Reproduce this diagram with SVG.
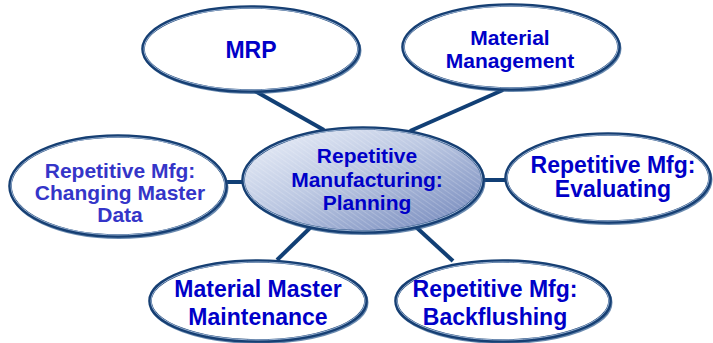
<svg xmlns="http://www.w3.org/2000/svg" width="713" height="343" viewBox="0 0 713 343">
<defs>
<linearGradient id="cg" x1="0" y1="0" x2="1" y2="1">
<stop offset="0" stop-color="#eef2fa"/>
<stop offset="0.45" stop-color="#bcc8e2"/>
<stop offset="1" stop-color="#6d82b8"/>
</linearGradient>
<pattern id="tex" width="4" height="4" patternUnits="userSpaceOnUse" patternTransform="rotate(35)">
<rect width="4" height="1" fill="#ffffff" opacity="0.18"/>
</pattern>
</defs>
<style>
.sh{fill:none;stroke:#2c5a8e;stroke-width:3;opacity:0.7}
.ring{fill:#ffffff;stroke:#163f73;stroke-width:3.6}
.ring2{fill:none;stroke:#a9c0dd;stroke-width:0.9}
.t{font-family:"Liberation Sans",Arial,sans-serif;font-weight:bold;fill:#0000c8;text-anchor:middle}
.lt{fill:#3535c8}
.c{stroke:#113f75;stroke-width:4;fill:none;stroke-linecap:butt}
</style>
<rect width="713" height="343" fill="#ffffff"/>
<g id="connectors">
<line class="c" x1="255" y1="91" x2="324" y2="130"/>
<line class="c" x1="503" y1="90" x2="410" y2="131"/>
<line class="c" x1="224" y1="182" x2="245" y2="182"/>
<line class="c" x1="481" y1="180" x2="508" y2="180"/>
<line class="c" x1="277" y1="260" x2="311" y2="227"/>
<line class="c" x1="416" y1="227" x2="453" y2="261"/>
</g>
<g id="mrp">
<ellipse class="sh" cx="252" cy="50.5" rx="108" ry="42"/>
<ellipse class="ring" cx="251" cy="49" rx="108" ry="42"/>
<ellipse class="ring2" cx="251" cy="49" rx="107" ry="41"/>
<text class="t" x="251" y="58" font-size="23">MRP</text>
</g>
<g id="material-management">
<ellipse class="sh" cx="512" cy="48.5" rx="108" ry="42"/>
<ellipse class="ring" cx="511" cy="47" rx="108" ry="42"/>
<ellipse class="ring2" cx="511" cy="47" rx="107" ry="41"/>
<text class="t" x="510" y="45" font-size="21">Material</text>
<text class="t" x="510" y="68" font-size="21">Management</text>
</g>
<g id="center">
<ellipse class="sh" cx="364" cy="181.5" rx="120" ry="52"/>
<ellipse cx="363" cy="180" rx="120" ry="52" fill="url(#cg)" stroke="#163f73" stroke-width="3.6"/>
<ellipse cx="363" cy="180" rx="118" ry="50" fill="url(#tex)"/>
<ellipse class="ring2" cx="363" cy="180" rx="119" ry="51"/>
<text class="t" x="367" y="163" font-size="21">Repetitive</text>
<text class="t" x="367" y="187" font-size="21">Manufacturing:</text>
<text class="t" x="367" y="210" font-size="21">Planning</text>
</g>
<g id="changing-master-data">
<ellipse class="sh" cx="119" cy="187.5" rx="108" ry="50"/>
<ellipse class="ring" cx="118" cy="186" rx="108" ry="50"/>
<ellipse class="ring2" cx="118" cy="186" rx="107" ry="49"/>
<text class="t lt" x="120" y="178" font-size="21">Repetitive Mfg:</text>
<text class="t lt" x="120" y="200" font-size="21">Changing Master</text>
<text class="t lt" x="120" y="222" font-size="21">Data</text>
</g>
<g id="evaluating">
<ellipse class="sh" cx="609" cy="179.5" rx="102" ry="44"/>
<ellipse class="ring" cx="608" cy="178" rx="102" ry="44"/>
<ellipse class="ring2" cx="608" cy="178" rx="101" ry="43"/>
<text class="t" x="613" y="173" font-size="23">Repetitive Mfg:</text>
<text class="t" x="613" y="197" font-size="23">Evaluating</text>
</g>
<g id="material-master-maintenance">
<ellipse class="sh" cx="259" cy="302.5" rx="108" ry="40"/>
<ellipse class="ring" cx="258" cy="301" rx="108" ry="40"/>
<ellipse class="ring2" cx="258" cy="301" rx="107" ry="39"/>
<text class="t" x="258" y="297" font-size="23">Material Master</text>
<text class="t" x="258" y="325" font-size="23">Maintenance</text>
</g>
<g id="backflushing">
<ellipse class="sh" cx="504" cy="302.5" rx="107" ry="40"/>
<ellipse class="ring" cx="503" cy="301" rx="107" ry="40"/>
<ellipse class="ring2" cx="503" cy="301" rx="106" ry="39"/>
<text class="t" x="495" y="297" font-size="23">Repetitive Mfg:</text>
<text class="t" x="495" y="325" font-size="23">Backflushing</text>
</g>
</svg>
